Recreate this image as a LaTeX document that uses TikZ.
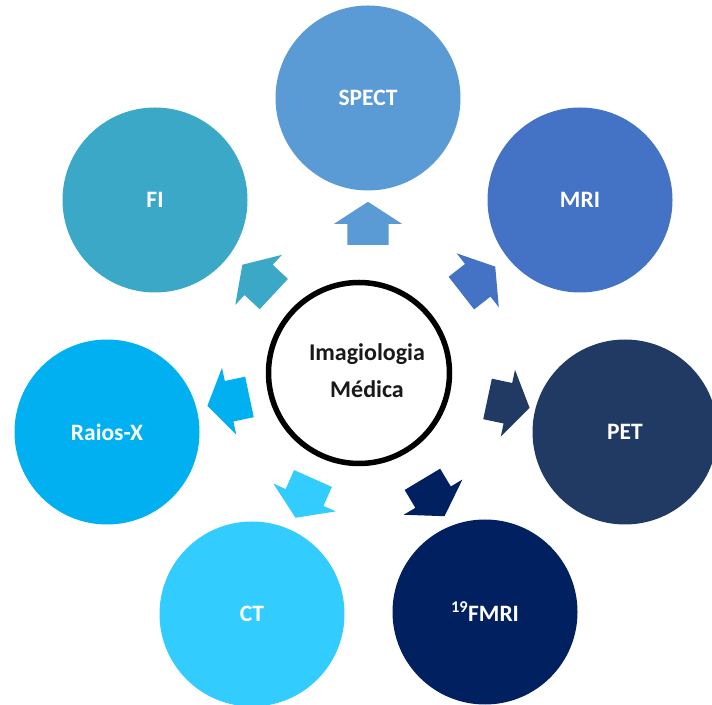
\documentclass[tikz,border=0pt]{standalone}
\usepackage{fontspec}
\setmainfont{Carlito}
\usepackage{tikz}
\usetikzlibrary{shapes.arrows}
\definecolor{spectblue}{HTML}{5B9BD5}
\definecolor{mriblue}{HTML}{4472C4}
\definecolor{petnavy}{HTML}{213A64}
\definecolor{fmrinavy}{HTML}{002060}
\definecolor{ctcyan}{HTML}{33CCFF}
\definecolor{xraysky}{HTML}{00B0F0}
\definecolor{fiteal}{HTML}{3BA8C8}
\tikzset{
  modality/.style={circle,fill=#1,draw=none,minimum size=185pt,inner sep=0pt,
    text=white,font=\bfseries\fontsize{23.5}{28}\selectfont},
  hub/.style={circle,draw=black,line width=5.5pt,fill=white,minimum size=181pt,inner sep=0pt},
  hubtext/.style={align=center,text=black!90,font=\bfseries\fontsize{24}{37}\selectfont},
  pointer/.style={single arrow,fill=#1,draw=none,minimum height=43pt,
    inner xsep=0pt,inner ysep=20.5pt,
    single arrow head extend=13.5pt,single arrow tip angle=114},
}

\begin{document}
\begin{tikzpicture}[x=1pt,y=1pt]
  \useasboundingbox (0,0) rectangle (712,704);
  \node[hub] (hub) at (359,331) {};
  \node[hubtext] (title) at (367,333) {Imagiologia\\Médica};
  \node[modality=spectblue] (spect) at (368,606) {SPECT};
  \node[modality=mriblue] (mri) at (580,504) {MRI};
  \node[modality=petnavy] (pet) at (625,272) {PET};
  \node[modality=fmrinavy] (fmri) at (485,92) {\textsuperscript{19}FMRI};
  \node[modality=ctcyan] (ct) at (252,90) {CT};
  \node[modality=xraysky] (xray) at (107,272) {Raios-X};
  \node[modality=fiteal] (fi) at (155,504) {FI};
  % arrows from the hub towards each modality
  \node[pointer=spectblue,rotate=90] (a-spect) at (368,474) {};
  \node[pointer=mriblue,rotate=38] (a-mri) at (473,420) {};
  \node[pointer=petnavy,rotate=-12] (a-pet) at (502,302) {};
  \node[pointer=fmrinavy,rotate=-59] (a-fmri) at (430,212) {};
  \node[pointer=ctcyan,rotate=-114] (a-ct) at (307,212) {};
  \node[pointer=xraysky,rotate=192] (a-xray) at (235,304) {};
  \node[pointer=fiteal,rotate=137] (a-fi) at (263,420) {};
\end{tikzpicture}
\end{document}
